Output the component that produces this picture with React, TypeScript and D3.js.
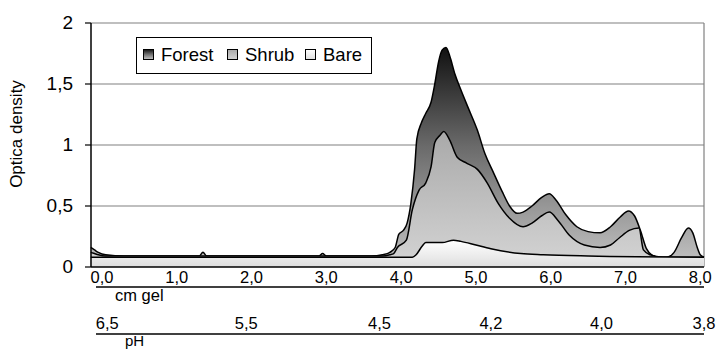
import * as d3 from 'd3';
import React, { useEffect, useRef } from 'react';

// gel position (cm) / optical density
const forestX = [-0.15, -0.1, -0.05, 0.05, 0.3, 0.5, 0.9, 1.3, 1.35, 1.4, 2.0, 2.9, 2.95, 3.0, 3.6, 3.75, 3.85, 3.92, 3.97, 4.03, 4.08, 4.13, 4.18, 4.21, 4.27, 4.33, 4.4, 4.45, 4.5, 4.55, 4.6, 4.65, 4.72, 4.8, 4.9, 5.02, 5.12, 5.23, 5.35, 5.45, 5.55, 5.63, 5.75, 5.88, 5.98, 6.07, 6.2, 6.35, 6.5, 6.66, 6.8, 6.93, 7.04, 7.12, 7.2, 7.28, 7.35, 7.45, 7.55, 7.65, 7.75, 7.84, 7.9, 7.96, 8.0, 8.05];
const forestY = [0.16, 0.14, 0.12, 0.1, 0.09, 0.09, 0.09, 0.09, 0.12, 0.09, 0.09, 0.09, 0.11, 0.09, 0.09, 0.1, 0.12, 0.16, 0.27, 0.3, 0.36, 0.52, 0.8, 1.05, 1.18, 1.26, 1.35, 1.5, 1.68, 1.78, 1.8, 1.73, 1.58, 1.45, 1.3, 1.12, 0.93, 0.78, 0.62, 0.5, 0.44, 0.45, 0.5, 0.57, 0.6, 0.55, 0.43, 0.33, 0.29, 0.28, 0.33, 0.41, 0.46, 0.42, 0.3, 0.15, 0.1, 0.08, 0.08, 0.12, 0.24, 0.32, 0.28, 0.16, 0.1, 0.08];

const shrubX = [-0.15, -0.1, -0.05, 0.05, 0.3, 3.6, 3.75, 3.85, 3.9, 3.95, 4.07, 4.15, 4.24, 4.33, 4.4, 4.45, 4.52, 4.57, 4.65, 4.75, 4.88, 5.02, 5.15, 5.3, 5.45, 5.63, 5.75, 5.88, 5.98, 6.1, 6.25, 6.45, 6.66, 6.8, 6.92, 7.05, 7.18, 7.24, 7.33, 7.5, 8.05];
const shrubY = [0.12, 0.11, 0.1, 0.09, 0.09, 0.09, 0.09, 0.1, 0.11, 0.16, 0.22, 0.47, 0.63, 0.69, 0.82, 1.02, 1.08, 1.11, 1.04, 0.9, 0.85, 0.8, 0.69, 0.52, 0.4, 0.33, 0.36, 0.42, 0.45, 0.38, 0.26, 0.18, 0.16, 0.18, 0.24, 0.3, 0.32, 0.14, 0.1, 0.08, 0.08];

const bareX = [-0.15, 4.15, 4.2, 4.28, 4.33, 4.55, 4.7, 4.8, 5.0, 5.2, 5.6, 5.9, 6.5, 8.05];
const bareY = [0.08, 0.08, 0.1, 0.17, 0.2, 0.2, 0.22, 0.21, 0.18, 0.15, 0.11, 0.1, 0.09, 0.08];

const yTicks = [0, 0.5, 1, 1.5, 2];
const cmTicks = [0, 1, 2, 3, 4, 5, 6, 7, 8];
const phLabels = ['6,5', '5,5', '4,5', '4,2', '4,0', '3,8'];
const phAt = [0.07, 1.93, 3.71, 5.2, 6.68, 8.05];
const seriesNames = ['Forest', 'Shrub', 'Bare'];

const fmt = (v: number) => String(v).replace('.', ',');

const App = () => {
    const ref = useRef<SVGSVGElement>(null);

    useEffect(() => {
        const svg = d3.select(ref.current);
        svg.selectAll('*').remove();
        const font = 'Arial, "Liberation Sans", sans-serif';

        const x = d3.scaleLinear().domain([-0.147, 8.05]).range([91, 704]);
        const y = d3.scaleLinear().domain([0, 2]).range([267, 23]);

        // gradients
        const defs = svg.append('defs');
        const grad = (id: string, stops: [number, string][]) => {
            const g = defs.append('linearGradient').attr('id', id)
                .attr('x1', 0).attr('y1', 0).attr('x2', 0).attr('y2', 1);
            stops.forEach(s => g.append('stop').attr('offset', s[0]).attr('stop-color', s[1]));
        };
        grad('gForest', [[0, '#111111'], [0.45, '#6a6a6a'], [1, '#c4c4c4']]);
        grad('gShrub', [[0, '#a9a9a9'], [1, '#d4d4d4']]);
        grad('gBare', [[0, '#ffffff'], [1, '#dedede']]);

        // grid
        svg.append('g').selectAll('line').data(yTicks.filter(d => d > 0)).enter().append('line')
            .attr('x1', 91).attr('x2', 704)
            .attr('y1', d => y(d)).attr('y2', d => y(d))
            .attr('stroke', '#808080').attr('stroke-width', 1.2);
        svg.append('line').attr('x1', 704).attr('x2', 704).attr('y1', y(2)).attr('y2', y(0))
            .attr('stroke', '#808080').attr('stroke-width', 1.2);

        const series = [
            { xs: forestX, ys: forestY, fill: 'url(#gForest)' },
            { xs: shrubX, ys: shrubY, fill: 'url(#gShrub)' },
            { xs: bareX, ys: bareY, fill: 'url(#gBare)' },
        ];
        const area = d3.area<[number, number]>()
            .x(d => x(d[0])).y0(y(0)).y1(d => y(d[1]))
            .curve(d3.curveMonotoneX);
        const line = d3.line<[number, number]>()
            .x(d => x(d[0])).y(d => y(d[1]))
            .curve(d3.curveMonotoneX);
        series.forEach(s => {
            const pts = s.xs.map((v, i) => [v, s.ys[i]] as [number, number]);
            svg.append('path').attr('d', area(pts)).attr('fill', s.fill);
            svg.append('path').attr('d', line(pts)).attr('fill', 'none')
                .attr('stroke', '#000').attr('stroke-width', 1.5);
        });

        // axes
        svg.append('line').attr('x1', 91).attr('x2', 91).attr('y1', y(2)).attr('y2', y(0))
            .attr('stroke', '#000').attr('stroke-width', 1.5);
        svg.append('line').attr('x1', 91).attr('x2', 704).attr('y1', y(0)).attr('y2', y(0))
            .attr('stroke', '#000').attr('stroke-width', 1.5);
        svg.append('g').selectAll('line').data(yTicks).enter().append('line')
            .attr('x1', 85).attr('x2', 91)
            .attr('y1', d => y(d)).attr('y2', d => y(d))
            .attr('stroke', '#000').attr('stroke-width', 1.2);
        svg.append('g').selectAll('text').data(yTicks).enter().append('text')
            .attr('x', 73).attr('y', d => y(d) + 6)
            .attr('text-anchor', 'end').attr('font-family', font).attr('font-size', 19)
            .text(d => fmt(d));

        svg.append('text')
            .attr('transform', 'translate(22,134) rotate(-90)')
            .attr('text-anchor', 'middle').attr('font-family', font).attr('font-size', 17)
            .text('Optica density');

        // cm gel scale
        svg.append('g').selectAll('text').data(cmTicks).enter().append('text')
            .attr('x', d => x(d)).attr('y', 283)
            .attr('text-anchor', 'middle').attr('font-family', font).attr('font-size', 16.5)
            .text(d => d3.format('.1f')(d).replace('.', ','));
        svg.append('line').attr('x1', 96).attr('x2', 704).attr('y1', 287).attr('y2', 287)
            .attr('stroke', '#000').attr('stroke-width', 1.5);
        svg.append('text').attr('x', 115).attr('y', 301)
            .attr('font-family', font).attr('font-size', 16.5).text('cm gel');

        // pH scale
        svg.append('g').selectAll('text').data(phLabels).enter().append('text')
            .attr('x', (d, i) => x(phAt[i])).attr('y', 329)
            .attr('text-anchor', 'middle').attr('font-family', font).attr('font-size', 16.5)
            .text(d => d);
        svg.append('line').attr('x1', 96).attr('x2', 704).attr('y1', 334).attr('y2', 334)
            .attr('stroke', '#000').attr('stroke-width', 1.5);
        svg.append('text').attr('x', 125).attr('y', 346)
            .attr('font-family', font).attr('font-size', 15).text('pH');

        // legend
        const lg = svg.append('g');
        lg.append('rect').attr('x', 136.5).attr('y', 37.5).attr('width', 235).attr('height', 36)
            .attr('fill', '#fff').attr('stroke', '#000').attr('stroke-width', 1);
        const fills = ['url(#gForest)', 'url(#gShrub)', 'url(#gBare)'];
        const swX = [143, 227, 305];
        seriesNames.forEach((n, i) => {
            lg.append('rect').attr('x', swX[i] + 0.5).attr('y', 49.5).attr('width', 10).attr('height', 10)
                .attr('fill', fills[i]).attr('stroke', '#000').attr('stroke-width', 1);
            lg.append('text').attr('x', swX[i] + 18).attr('y', 61)
                .attr('font-family', font).attr('font-size', 18.5).text(n);
        });
    }, []);

    return (
        <svg ref={ref} width={720} height={350}
            style={{ position: 'absolute', left: 0, top: 0, background: '#fff' }} />
    );
};

export default App;
